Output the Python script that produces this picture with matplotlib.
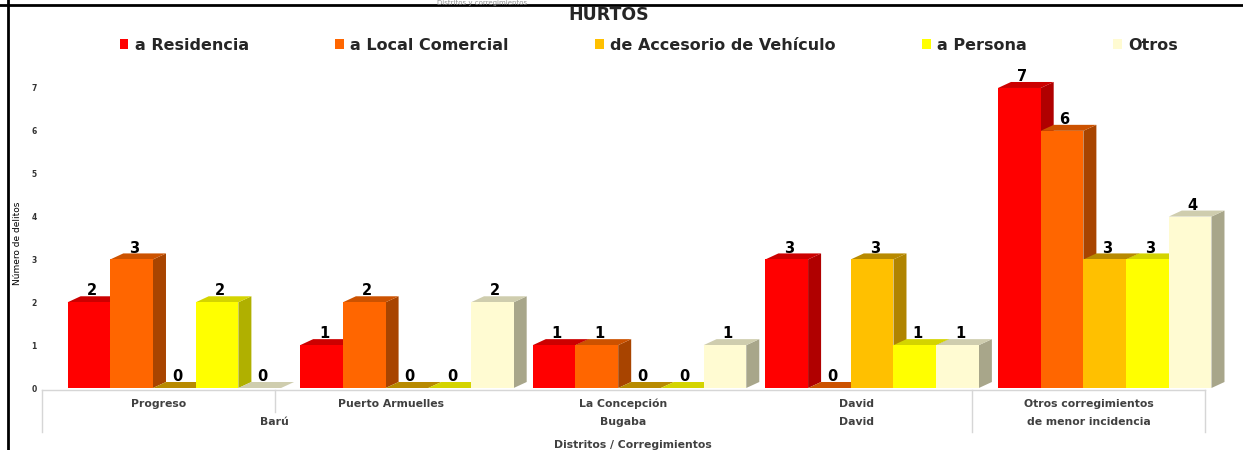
import matplotlib
matplotlib.use("Agg")
import matplotlib.pyplot as plt
import matplotlib.transforms as mtransforms
from matplotlib.patches import Polygon, Patch
from matplotlib.lines import Line2D

# data
corregimientos = ["Progreso", "Puerto Armuelles", "La Concepción", "David", "Otros corregimientos"]
distritos = ["Barú", "Bugaba", "David", "de menor incidencia"]
distrito_pos = [0.5, 2, 3, 4]
series_names = ["a Residencia", "a Local Comercial", "de Accesorio de Vehículo", "a Persona", "Otros"]
residencia = [2, 1, 1, 3, 7]
local_comercial = [3, 2, 1, 0, 6]
accesorio_vehiculo = [0, 0, 0, 3, 3]
persona = [2, 0, 0, 1, 3]
otros = [0, 2, 1, 1, 4]
series_values = [residencia, local_comercial, accesorio_vehiculo, persona, otros]

# colours: front, side, top
front_colors = ["#FF0000", "#FF6600", "#FFC000", "#FFFF00", "#FFFBD2"]
side_colors = ["#B00000", "#A84400", "#B08400", "#B0B000", "#A8A68A"]
top_colors = ["#CC0000", "#CC5200", "#B88A00", "#D4D400", "#CFCDAE"]

plt.rcParams["font.family"] = ["DejaVu Sans"]

fig = plt.figure(figsize=(12.43, 4.5), dpi=100)
ax = fig.add_axes([42 / 1243, 62 / 450, (1230 - 42) / 1243, 318 / 450])

px_x = 232.6          # pixels per category
px_y = 42.86          # pixels per unit
ax.set_xlim(-0.5, -0.5 + (1230 - 42) / px_x)
ax.set_ylim(0, 318 / px_y)

w = 42.7 / px_x
dx = 13 / px_x
dy = 6 / px_y
start = -0.39

for k, vals in enumerate(series_values):
    lefts = [i + start + k * w for i in range(len(vals))]
    for x0, v in zip(lefts, vals):
        # side face
        ax.add_patch(Polygon([(x0 + w, 0), (x0 + w + dx, dy), (x0 + w + dx, v + dy), (x0 + w, v)],
                             closed=True, facecolor=side_colors[k], edgecolor="none", zorder=2 + k))
        # top face
        ax.add_patch(Polygon([(x0, v), (x0 + w, v), (x0 + w + dx, v + dy), (x0 + dx, v + dy)],
                             closed=True, facecolor=top_colors[k], edgecolor="none", zorder=2 + k))
        ax.text(x0 + w / 2 + dx * 0.2, v + dy + 0.02, str(v), ha="center", va="baseline",
                fontsize=10.5, fontweight="bold", color="black", zorder=20)
    ax.bar(lefts, vals, width=w, align="edge", color=front_colors[k], edgecolor="none", zorder=2 + k)

for s in ax.spines.values():
    s.set_visible(False)
ax.set_xticks([])
ax.set_yticks(range(8))
ax.tick_params(axis="y", length=0, labelsize=5.5, pad=4)
for t in ax.get_yticklabels():
    t.set_fontweight("bold")
    t.set_color("#333333")
ax.set_ylabel("Número de delitos", fontsize=6.5, family=["Liberation Sans Narrow", "DejaVu Sans"],
              labelpad=1)
ax.yaxis.set_label_coords(-0.0168, 0.456)

# category box below the axis
tr = mtransforms.blended_transform_factory(ax.transData, fig.transFigure)
line_kw = dict(color="#D6D6D6", lw=1, transform=tr, clip_on=False)
y_top, y_mid, y_bot = 60 / 450, 38 / 450, 18 / 450
ax.add_line(Line2D([-0.5, 4.5], [y_top, y_top], **line_kw))
for xs, yb in [(-0.5, y_bot), (0.5, y_mid), (3.5, y_bot), (4.5, y_bot)]:
    ax.add_line(Line2D([xs, xs], [y_top, yb], **line_kw))

lab_kw = dict(transform=tr, ha="center", va="center", fontsize=7.8, fontweight="bold", color="#404040")
for i, name in enumerate(corregimientos):
    ax.text(i, 46 / 450, name, **lab_kw)
for xp, name in zip(distrito_pos, distritos):
    ax.text(xp, 28 / 450, name, **lab_kw)
ax.text(2.04, 5 / 450, "Distritos / Corregimientos", **lab_kw)

# title and legend
fig.text(609 / 1243, 1 - 15 / 450, "HURTOS", ha="center", va="center", fontsize=12.5,
         fontweight="bold", color="#262626")
fig.text(482 / 1243, 1 - 5.5 / 450, "Distritos y corregimientos", ha="center", va="baseline",
         fontsize=5, color="#909090")

handles = [Patch(facecolor=c, edgecolor="none") for c in front_colors]
leg = fig.legend(handles, series_names, loc="center", bbox_to_anchor=(649 / 1243, 1 - 45 / 450),
                 ncol=5, frameon=False, fontsize=11.5, handlelength=0.55, handleheight=0.55,
                 handletextpad=0.4, columnspacing=5.4)
for t in leg.get_texts():
    t.set_fontweight("bold")
    t.set_color("#262626")

# outer frame
fig.add_artist(Line2D([0, 1], [1 - 5 / 450, 1 - 5 / 450], color="black", lw=2, transform=fig.transFigure))
fig.add_artist(Line2D([8 / 1243, 8 / 1243], [0, 1], color="black", lw=2, transform=fig.transFigure))

fig.savefig("out.png", dpi=100)
